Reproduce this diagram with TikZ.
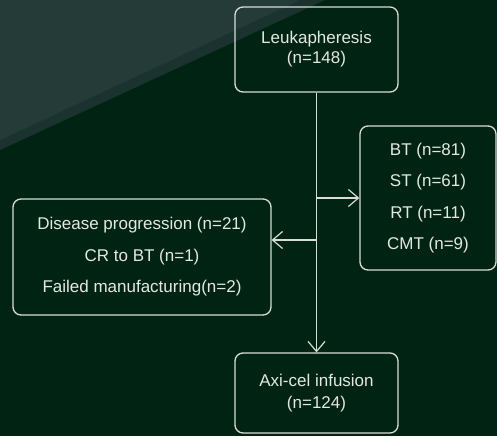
\documentclass[tikz,border=0pt]{standalone}
\usepackage{fontspec}
\setmainfont{Liberation Sans}
\usetikzlibrary{arrows.meta}
\definecolor{bgdark}{HTML}{012314}
\definecolor{bglight}{HTML}{243B38}
\definecolor{bgmid}{HTML}{1B332E}
\definecolor{linec}{HTML}{D8DDD9}
\definecolor{textc}{HTML}{E4E8E5}
\tikzset{
  box/.style={draw=linec, line width=1.3pt, rounded corners=8pt, text=textc, align=center, inner sep=0pt},
  conn/.style={draw=linec, line width=1.3pt},
  arr/.style={conn, -{Straight Barb[length=10pt,width=17pt,line width=1.2pt]}},
}
\begin{document}
\begin{tikzpicture}[x=1pt,y=-1pt]
\useasboundingbox (0,0) rectangle (497,436);
\fill[bgdark] (0,0) rectangle (497,436);
\fill[bgmid] (0,0) -- (325,0) -- (0,150) -- cycle;
\fill[bglight] (0,0) -- (300,0) -- (0,140) -- cycle;
\node[box, minimum width=163pt, minimum height=85pt, font=\fontsize{17}{20}\selectfont] (leuk) at (316.5,49.5) {Leukapheresis\\(n=148)};
\node[box, minimum width=136pt, minimum height=144pt, font=\fontsize{17}{31.3}\selectfont] (bt) at (428,198) {BT (n=81)\\ST (n=61)\\RT (n=11)\\CMT (n=9)};
\node[box, minimum width=258pt, minimum height=116pt, font=\fontsize{17}{31.5}\selectfont] (dp) at (142,257) {Disease progression (n=21)\\CR to BT (n=1)\\Failed manufacturing(n=2)};
\node[box, minimum width=163pt, minimum height=80pt, font=\fontsize{17}{22}\selectfont] (axi) at (316.5,393) {Axi-cel infusion\\(n=124)};
\draw[arr] (leuk.south) -- (axi.north);
\coordinate (j1) at (leuk.south |- bt.west);
\coordinate (j2) at (leuk.south |- 0,240);
\draw[arr] (j1) -- (bt.west);
\draw[arr] (j2) -- (j2 -| dp.east);
\end{tikzpicture}
\end{document}
